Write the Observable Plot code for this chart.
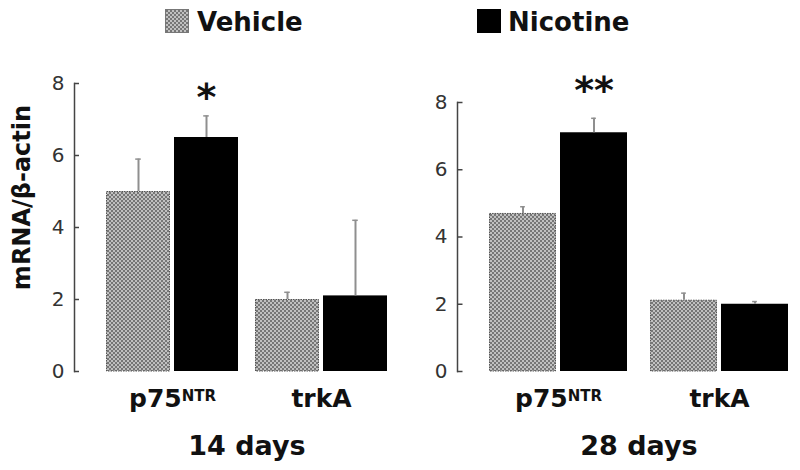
<!DOCTYPE html>
<html>
<head>
<meta charset="utf-8">
<script src="https://cdn.jsdelivr.net/npm/d3@7"></script>
<script src="https://cdn.jsdelivr.net/npm/@observablehq/plot@0.6"></script>
<style>
  body { margin: 0; background: #fff; }
  #wrap { position: relative; width: 800px; height: 470px; overflow: hidden; font-family: "DejaVu Sans", Verdana, sans-serif; }
  #wrap svg { position: absolute; left: 0; top: 0; }
</style>
</head>
<body>
<div id="wrap"></div>
<script>
// ---- data ----
const genes = ["p75NTR", "trkA"];
const treatments = ["Vehicle", "Nicotine"];
// order: p75NTR-Vehicle, p75NTR-Nicotine, trkA-Vehicle, trkA-Nicotine
const mean14 = [5.0, 6.5, 2.0, 2.1];
const err14  = [0.9, 0.6, 0.2, 2.1];
const sig14  = ["", "*", "", ""];
const mean28 = [4.7, 7.1, 2.12, 2.0];
const err28  = [0.2, 0.43, 0.21, 0.08];
const sig28  = ["", "**", "", ""];
const yTicks = [0, 2, 4, 6, 8];
const panelLabels = ["14 days", "28 days"];
const yTitle = "mRNA/\u03B2-actin";

function rowsFor(means, errs, sigs) {
  const out = [];
  genes.forEach((g, gi) => treatments.forEach((t, ti) => {
    const i = gi * 2 + ti;
    out.push({gene: g, treatment: t, value: means[i], err: errs[i], sig: sigs[i]});
  }));
  return out;
}

const wrap = document.getElementById("wrap");
const FONT = "DejaVu Sans, Verdana, sans-serif";

// legend + pattern defs
const leg = d3.select(wrap).append("svg").attr("width", 800).attr("height", 40);
const pat = leg.append("defs").append("pattern").attr("id", "checker")
  .attr("width", 4).attr("height", 4).attr("patternUnits", "userSpaceOnUse");
pat.append("rect").attr("width", 4).attr("height", 4).attr("fill", "#c0c0c0");
pat.append("rect").attr("width", 2).attr("height", 2).attr("fill", "#767676");
pat.append("rect").attr("x", 2).attr("y", 2).attr("width", 2).attr("height", 2).attr("fill", "#767676");
const legPos = [{sx: 165, tx: 197}, {sx: 477, tx: 508}];
treatments.forEach((t, i) => {
  leg.append("rect").attr("x", legPos[i].sx + 0.5).attr("y", 9.5).attr("width", 23).attr("height", 23)
    .attr("fill", t === "Vehicle" ? "url(#checker)" : "#000")
    .attr("stroke", t === "Vehicle" ? "#777" : "#000").attr("stroke-width", 1);
  leg.append("text").attr("x", legPos[i].tx).attr("y", 31).text(t)
    .attr("font-family", FONT).attr("font-weight", "bold").attr("font-size", 26).attr("fill", "#111");
});

function panel({rows, label, mL, mR, mT, fxPad, xPad, axisDx, starDy, title}) {
  const W = 800 - mL - mR;
  const fStep = W / (2 - fxPad);
  const fBw = fStep * (1 - fxPad);
  const xStep = fBw / (2 - xPad);
  const xBw = xStep * (1 - xPad);
  const marks = [
    Plot.barY(rows.filter(d => d.treatment === "Vehicle"), {fx: "gene", x: "treatment", y: "value",
      fill: "url(#checker)", stroke: "#555", strokeWidth: 1, strokeDasharray: "1.5,1", insetTop: 0.5, insetLeft: 0.5, insetRight: 0.5}),
    Plot.barY(rows.filter(d => d.treatment === "Nicotine"), {fx: "gene", x: "treatment", y: "value", fill: "#000"}),
    Plot.ruleX(rows, {fx: "gene", x: "treatment", y1: "value", y2: d => d.value + d.err, stroke: "#8f8f8f", strokeWidth: 2}),
    Plot.tickY(rows, {fx: "gene", x: "treatment", y: d => d.value + d.err, stroke: "#8f8f8f", strokeWidth: 1.5,
      insetLeft: xBw / 2 - 3, insetRight: xBw / 2 - 3}),
    Plot.text(rows.filter(d => d.sig), {fx: "gene", x: "treatment", y: d => d.value + d.err, text: "sig",
      dy: starDy, fontSize: 38, fontWeight: "bold", fill: "#111"}),
    Plot.frame({anchor: "left", dx: axisDx, stroke: "#444", strokeWidth: 1.5, facetAnchor: "left"}),
    Plot.tickY(yTicks, {y: d => d, dx: axisDx, insetRight: fBw - 6, stroke: "#444", strokeWidth: 1.5, facetAnchor: "left"}),
    Plot.axisY({ticks: yTicks, tickSize: 0, tickPadding: 10, dx: axisDx, fontSize: 20, fill: "#333", label: null}),
    Plot.axisFx({anchor: "bottom", tickSize: 0, tickPadding: 18, fontSize: 25, fontWeight: "bold", fill: "#111", label: null}),
    Plot.axisFx({anchor: "bottom", ticks: [], tickSize: 0, label, labelAnchor: "center", labelOffset: 83,
      fontSize: 27, fontWeight: "bold", fill: "#111"})
  ];
  if (title) {
    marks.push(Plot.axisY({ticks: [], tickSize: 0, label: title, labelArrow: "none", labelAnchor: "center", labelOffset: 94,
      fontSize: 24, fontWeight: "bold", fill: "#111"}));
  }
  const svg = Plot.plot({
    width: 800, height: 470,
    marginLeft: mL, marginRight: mR, marginTop: mT, marginBottom: 99,
    style: {background: "transparent", fontFamily: FONT, overflow: "visible"},
    fx: {domain: genes, paddingInner: fxPad, paddingOuter: 0, axis: null, label: null},
    x: {domain: treatments, paddingInner: xPad, paddingOuter: 0, axis: null},
    y: {domain: [0, 8], axis: null},
    marks
  });
  // superscript NTR
  d3.select(svg).selectAll("text").each(function () {
    const t = d3.select(this);
    if (this.childElementCount === 0 && t.text() === "p75NTR") {
      t.text("p75");
      t.append("tspan").attr("dy", "-0.45em").attr("font-size", "0.6em").text("NTR");
    }
  });
  // y title: keep plain text and nudge it upward along the axis
  d3.select(svg).selectAll("text").each(function () {
    const t = d3.select(this);
    if (this.childElementCount === 0 && t.text().startsWith("mRNA")) {
      t.text(yTitle);
      const tr = t.attr("transform") || "";
      t.attr("transform", "translate(0,-30) " + tr);
    }
  });
  wrap.appendChild(svg);
}

panel({rows: rowsFor(mean14, err14, sig14), label: panelLabels[0], mL: 105, mR: 412, mT: 83,
  fxPad: 0.1133, xPad: 0.06, axisDx: -32, starDy: -18, title: yTitle});
panel({rows: rowsFor(mean28, err28, sig28), label: panelLabels[1], mL: 488, mR: 10, mT: 102,
  fxPad: 0.13, xPad: 0.055, axisDx: -31, starDy: -27, title: null});
</script>
</body>
</html>
